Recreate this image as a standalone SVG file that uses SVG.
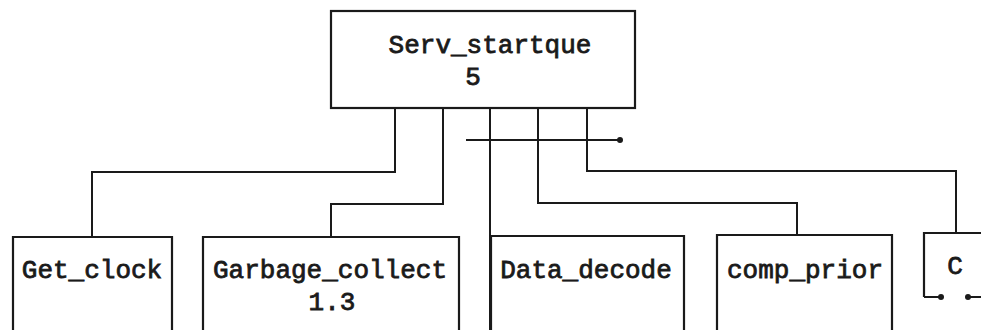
<svg xmlns="http://www.w3.org/2000/svg" width="981" height="330" viewBox="0 0 981 330">
<style>
.box{fill:none;stroke:#1a1a1a;stroke-width:2.2}
.ln{fill:none;stroke:#1a1a1a;stroke-width:2}
.t{font-family:"Liberation Mono","Courier New",monospace;font-size:26px;font-weight:normal;fill:#1a1a1a;stroke:#1a1a1a;stroke-width:0.8;text-anchor:middle}
</style>
<defs>
<marker id="dot" viewBox="0 0 10 10" refX="5" refY="5" markerWidth="6" markerHeight="6" markerUnits="userSpaceOnUse">
<circle cx="5" cy="5" r="5" fill="#1a1a1a"/>
</marker>
</defs>
<g id="connectors">
<path class="ln" d="M395 108 V172 H92 V237"/>
<path class="ln" d="M443 108 V204 H331 V237"/>
<path class="ln" d="M490 108 V330"/>
<path class="ln" d="M538 108 V203 H797 V235"/>
<path class="ln" d="M587 108 V171 H956 V233"/>
<path class="ln" d="M466 140 H620" marker-end="url(#dot)"/>
<path class="ln" d="M924 297 H941" marker-end="url(#dot)"/>
<path class="ln" d="M981 297 H968" marker-end="url(#dot)"/>
</g>
<g id="serv_startque">
<rect class="box" x="331" y="11" width="304" height="97"/>
<text class="t" x="490" y="53">Serv_startque</text>
<text class="t" x="473" y="85">5</text>
</g>
<g id="get_clock">
<path class="box" d="M13 332 V237 H172 V332"/>
<text class="t" x="92" y="278">Get_clock</text>
</g>
<g id="garbage_collect">
<path class="box" d="M203 332 V237 H459 V332"/>
<text class="t" x="330" y="278">Garbage_collect</text>
<text class="t" x="332" y="310">1.3</text>
</g>
<g id="data_decode">
<path class="box" d="M491 332 V236 H684 V332"/>
<text class="t" x="586" y="278">Data_decode</text>
</g>
<g id="comp_prior">
<path class="box" d="M717 332 V235 H892 V332"/>
<text class="t" x="805" y="278">comp_prior</text>
</g>
<g id="c_node">
<path class="box" d="M983 233 H924 V297"/>
<text class="t" x="955" y="274">C</text>
</g>
</svg>
